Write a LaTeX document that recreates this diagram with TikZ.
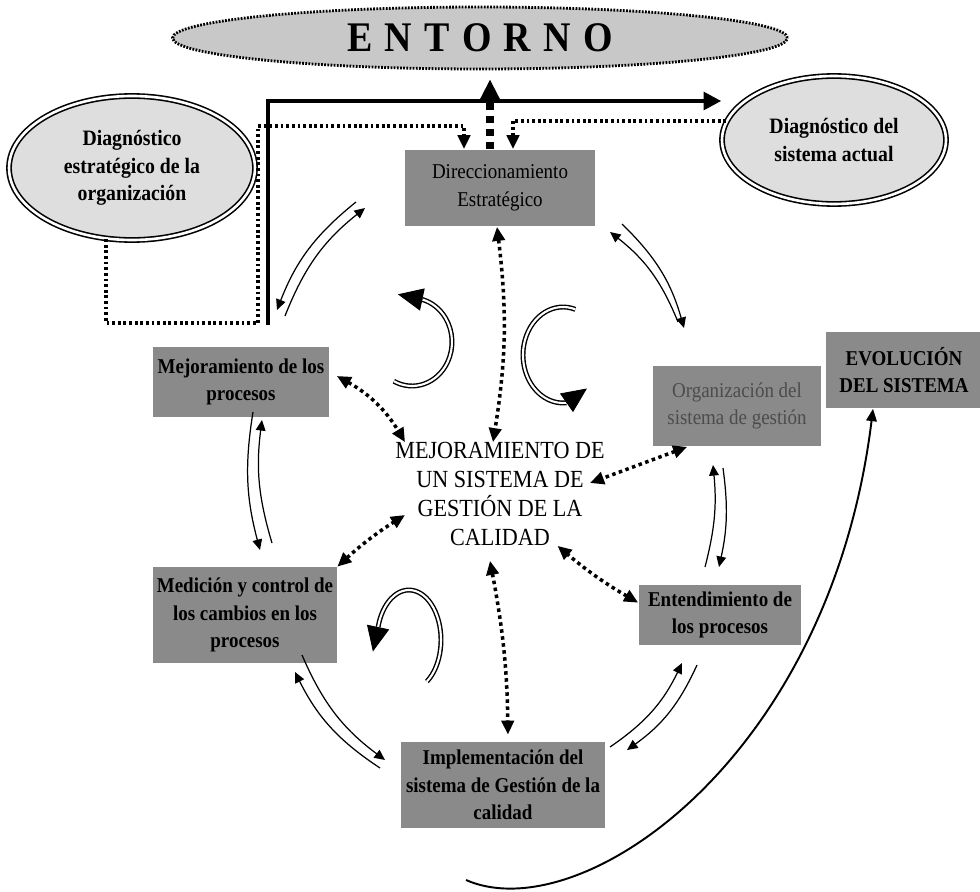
\documentclass[tikz,border=0pt]{standalone}
\usepackage{fontspec}
\setmainfont{Liberation Serif}[FakeStretch=0.9]
\usetikzlibrary{shapes.geometric,arrows.meta}
\definecolor{cajagris}{RGB}{138,138,138}
\definecolor{elipsegris}{RGB}{222,222,222}
\definecolor{entornogris}{RGB}{200,200,200}

\begin{document}
\begin{tikzpicture}[x=0.02cm, y=-0.02cm]
    \tikzstyle{caja}=[rectangle, fill=cajagris, align=center, inner sep=0pt, font=\fontsize{12}{15.8}\selectfont\bfseries]
    \tikzstyle{diag}=[ellipse, draw, double, double distance=1.5pt, line width=0.9pt, fill=elipsegris, align=center, inner sep=0pt, font=\fontsize{12.5}{15.6}\selectfont\bfseries]
    \tikzstyle{flecha}=[-{Triangle[length=6pt,width=5.5pt]}, line width=0.7pt]
    \tikzstyle{enlace}=[{Triangle[length=8pt,width=7pt]}-{Triangle[length=8pt,width=7pt]}, line width=2pt, dash pattern=on 2pt off 2pt]
    \tikzstyle{punto}=[-{Triangle[length=8pt,width=7pt]}, line width=2pt, dash pattern=on 1.6pt off 1.6pt]
    \tikzstyle{giro}=[double, double distance=1.2pt, line width=0.8pt]
    \tikzstyle{punta}=[-{Triangle[length=0.5cm,width=0.45cm]}, line width=0.5pt]

    \useasboundingbox (0,0) rectangle (980,892);

    \node[ellipse, draw, fill=entornogris, line width=1.6pt, dash pattern=on 1pt off 0.8pt,
          minimum width=12.3cm, minimum height=1.24cm, font=\fontsize{24}{24}\selectfont\bfseries]
          (entorno) at (480,38) {E\hspace{7pt}N\hspace{7pt}T\hspace{7pt}O\hspace{7pt}R\hspace{7pt}N\hspace{7pt}O};

    \node[diag, minimum width=4.92cm, minimum height=2.88cm] (diagorg) at (132,168) {Diagnóstico\\estratégico de la\\organización};
    \node[diag, minimum width=4.48cm, minimum height=2.56cm] (diagsis) at (834,140) {Diagnóstico del\\sistema actual};

    \node[caja, minimum width=3.8cm, minimum height=1.54cm, font=\fontsize{12}{15.8}\selectfont] (dir) at (500,188) {Direccionamiento\\Estratégico};
    \node[caja, minimum width=3.54cm, minimum height=1.4cm] (mej) at (241,382) {Mejoramiento de los\\procesos};
    \node[caja, minimum width=3.38cm, minimum height=1.62cm, text=black!70, font=\fontsize{12}{15.8}\selectfont] (org) at (737,406) {Organización del\\sistema de gestión};
    \node[caja, minimum width=3.12cm, minimum height=1.54cm] (evo) at (904,370) {EVOLUCIÓN\\DEL SISTEMA};
    \node[caja, minimum width=3.68cm, minimum height=1.92cm] (med) at (245,615) {Medición y control de\\los cambios en los\\procesos};
    \node[caja, minimum width=3.26cm, minimum height=1.2cm] (ent) at (720,615) {Entendimiento de\\los procesos};
    \node[caja, minimum width=4.1cm, minimum height=1.72cm] (imp) at (503,785) {Implementación del\\sistema de Gestión de la\\calidad};

    \node[align=center, inner sep=0pt, font=\fontsize{14}{16.4}\selectfont] (centro) at (500,494) {MEJORAMIENTO DE\\UN SISTEMA DE\\GESTIÓN DE LA\\CALIDAD};

    % lineas del entorno
    \coordinate (base) at (268,325);
    \draw[line width=2.2pt, -{Triangle[length=10pt,width=10pt]}] (base) |- (diagsis.west |- 0,101);
    \draw[line width=4pt, dash pattern=on 4pt off 3.5pt, -{Triangle[length=13pt,width=12pt]}, shorten >=5pt]
        (dir.north -| 490,0) -- (entorno.south -| 490,0);
    \draw[punto] (diagorg.250) |- (258,323) -- (258,126) -| (dir.north -| 464,0);
    \draw[punto] (diagsis.170) -| (dir.north -| 513,0);

    % enlaces con el centro
    \draw[enlace] (dir.south -| 497,0) to[bend left=8] ([xshift=-0.14cm]centro.north);
    \draw[enlace] ([xshift=0.14cm, yshift=0.12cm]mej.east) to[bend left=15] ([xshift=0.2cm]centro.north west);
    \draw[enlace] ([xshift=0.7cm]org.south west) -- ([xshift=-0.3cm, yshift=0.22cm]centro.east);
    \draw[enlace] (med.north east) to[bend left=5] ([xshift=0.2cm, yshift=-0.42cm]centro.west);
    \draw[enlace] ([yshift=-0.36cm]ent.north west) to[bend left=5] ([xshift=-0.95cm]centro.south east);
    \draw[enlace, shorten >=4pt] ([xshift=-0.2cm, yshift=-0.3cm]centro.south) to[bend left=5] ([xshift=0.1cm]imp.north);

    % flechas de ida y vuelta
    \foreach \xa/\ya/\xb/\yb/\ang in {356/202/277/310/-15, 285/316/365/208/15,
                                      678/322/610/232/-15, 622/224/684/328/15,
                                      272/543/262/420/12, 253/412/260/550/-12,
                                      705/567/713/465/-10, 723/468/719/567/10,
                                      380/768/295/672/15, 302/655/385/760/-15,
                                      610/747/682/663/-15, 697/665/627/750/15}
        \draw[flecha] (\xa,\ya) to[bend left=\ang] (\xb,\yb);

    % giros
    \draw[giro] (412,342) ++(-117:0.8cm and 0.88cm) arc[start angle=-117, end angle=75, x radius=0.8cm, y radius=0.88cm] coordinate (g1);
    \draw[punta] (g1) -- ++(168:0.5cm);
    \draw[giro] (563,355) ++(72:0.8cm and 0.96cm) arc[start angle=72, end angle=275, x radius=0.8cm, y radius=0.96cm] coordinate (g2);
    \draw[punta] (g2) -- ++(35:0.5cm);
    \draw[giro] (409,640) ++(-56:0.64cm and 1cm) arc[start angle=-56, end angle=165, x radius=0.64cm, y radius=1cm] coordinate (g3);
    \draw[punta] (g3) -- ++(258:0.5cm);

    % evolucion
    \coordinate (curva) at (466,880);
    \draw[line width=1.1pt, -{Triangle[length=7pt,width=6pt]}] (curva) .. controls (580,930) and (830,760) .. ([xshift=-0.62cm]evo.south);
\end{tikzpicture}
\end{document}
